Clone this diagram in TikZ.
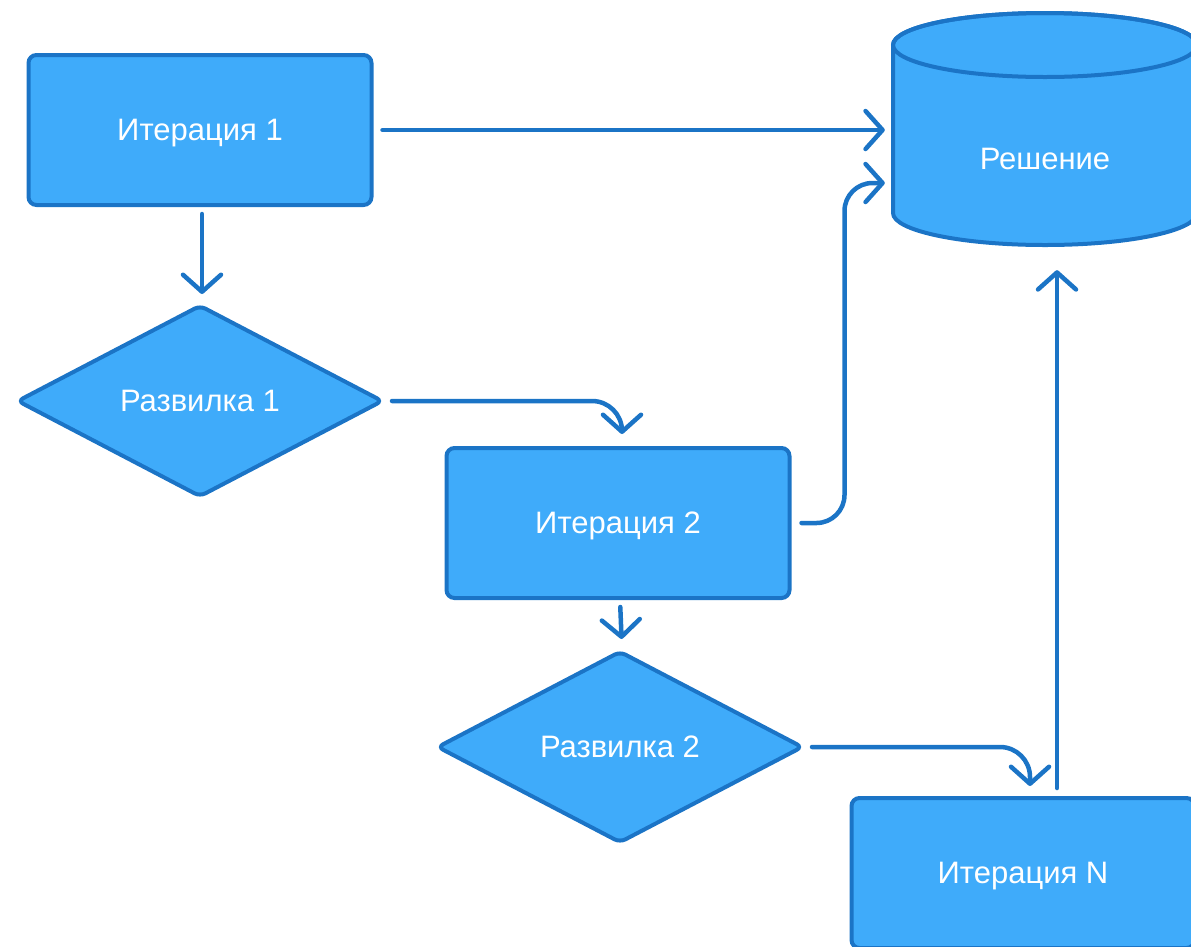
\documentclass[tikz,border=0pt]{standalone}
\usepackage{fontspec}
\setmainfont{Liberation Sans}
\usetikzlibrary{shapes.geometric,arrows.meta}
\definecolor{boxfill}{HTML}{3FABFA}
\definecolor{boxline}{HTML}{1B74C6}
\tikzset{
  every picture/.style={x=1pt,y=-1pt},
  label font/.style={text=white, text depth=0pt, font=\fontsize{31}{36}\selectfont},
  procbox/.style={rectangle, rounded corners=8pt, draw=boxline, fill=boxfill,
    line width=4pt, minimum width=343pt, minimum height=150pt, label font},
  forkbox/.style={diamond, rounded corners=6pt, draw=boxline, fill=boxfill,
    line width=4pt, aspect=1.9, minimum width=366pt, minimum height=192pt,
    inner sep=0pt, label font},
  flow/.style={draw=boxline, line width=4.5pt, line cap=round, line join=round,
    -{Straight Barb[length=17pt,width=38pt,line width=4.5pt,round]}},
}
\begin{document}
\begin{tikzpicture}
\useasboundingbox (0,0) rectangle (1191,946);
\begin{scope}
\clip (0,0) rectangle (1191,946);

% storage cylinder
\node (sol) [rectangle, minimum width=304pt, minimum height=232pt, inner sep=0pt] at (1045,129) {};
\filldraw[draw=boxline, fill=boxfill, line width=4pt, line join=round]
  (893,45) -- (893,213) arc[start angle=180, end angle=360, x radius=152, y radius=-32]
  -- (1197,45) arc[start angle=0, end angle=180, x radius=152, y radius=-32] -- cycle;
\draw[boxline, line width=4pt] (1045,45) ellipse[x radius=152, y radius=32];
\node[label font] at (1045,159) {Решение};

% process steps and forks
\node (it1) [procbox] at (200,130) {Итерация 1};
\node (f1)  [forkbox] at (200,401) {Развилка 1};
\node (it2) [procbox] at (618,523) {Итерация 2};
\node (f2)  [forkbox] at (620,747) {Развилка 2};
\node (itN) [procbox] at (1023,873) {Итерация N};

% connectors
\draw[flow, shorten <=9pt] (it1.east) -- ([xshift=-8pt]it1.east -| sol.west);
\draw[flow, shorten <=7pt, shorten >=9pt] ([xshift=2pt]it1.south) -- ([xshift=2pt]f1.north);
\draw[flow, rounded corners=30pt, shorten <=7pt, shorten >=12pt]
  (f1.east) -- ([xshift=4pt]it2.north |- f1.east) -- ([xshift=4pt]it2.north);
\draw[flow, rounded corners=28pt, shorten <=10pt]
  (it2.east) -- ++(53,0) |- ([xshift=-8pt,yshift=-54pt]sol.west);
\draw[flow, shorten <=7pt, shorten >=10pt] ([xshift=2pt]it2.south) -- ([xshift=2pt]f2.north);
\draw[flow, rounded corners=30pt, shorten <=7pt, shorten >=10pt]
  (f2.east) -- ([xshift=7pt]itN.north |- f2.east) -- ([xshift=7pt]itN.north);
\draw[flow, shorten <=8pt, shorten >=25pt] ([xshift=34pt]itN.north) -- ([xshift=34pt]itN.north |- sol.south);
\end{scope}
\end{tikzpicture}
\end{document}
